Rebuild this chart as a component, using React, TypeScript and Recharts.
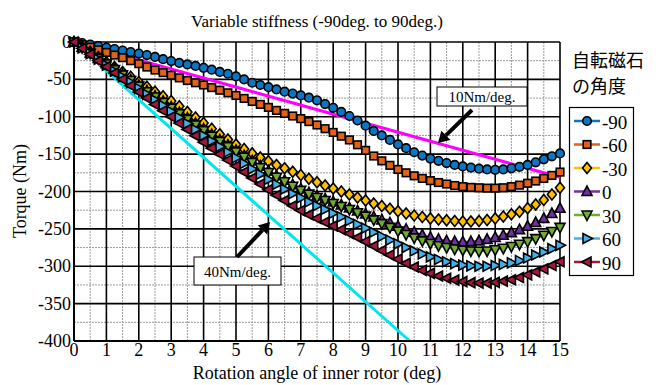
import React from "react";
import { LineChart, Line, XAxis, YAxis, CartesianGrid } from "recharts";

// rotation angle (deg)
const ANGLE = [
  0, 0.25, 0.5, 0.75, 1, 1.25, 1.5, 1.75, 2, 2.25, 2.5, 2.75, 3, 3.25, 3.5, 3.75,
  4, 4.25, 4.5, 4.75, 5, 5.25, 5.5, 5.75, 6, 6.25, 6.5, 6.75, 7, 7.25, 7.5, 7.75,
  8, 8.25, 8.5, 8.75, 9, 9.25, 9.5, 9.75, 10, 10.25, 10.5, 10.75, 11, 11.25, 11.5, 11.75,
  12, 12.25, 12.5, 12.75, 13, 13.25, 13.5, 13.75, 14, 14.25, 14.5, 14.75, 15,
];

// torque (Nm) per magnet angle
const T_M90 = [
  0, -1.5, -3.5, -5.5, -7.5, -9.5, -11.5, -13.5, -15.5, -17.5, -20, -23, -25.5, -28, -30, -32,
  -34.5, -37, -40, -42.5, -46, -50, -54.5, -57.5, -60.5, -63.5, -66.5, -69, -71.5, -74.5, -78, -83,
  -88, -93.5, -99, -105, -112, -119, -125, -131, -137, -142, -147.5, -152, -156, -159, -162, -164.5,
  -166.5, -168, -169.5, -170.5, -171, -170.5, -169, -167, -164.5, -161, -157, -153, -149,
];
const T_M60 = [
  0, -3.5, -7, -10.5, -14, -17.5, -21, -25, -29, -33.5, -37.5, -41, -44.5, -48, -51.5, -54.5,
  -57.5, -61, -64.5, -68, -71.5, -75.5, -79.5, -83.5, -87.5, -91.5, -95.5, -99, -102.5, -106.5, -111, -116,
  -121, -126, -131, -137.5, -145, -152.5, -159, -165, -170.5, -175, -179, -182.5, -185.5, -188, -190, -192,
  -193.5, -194.5, -195, -195.5, -195.5, -195, -193.5, -191.5, -189, -186, -182.5, -178.5, -174,
];
const T_M30 = [
  0, -6.5, -13, -20, -27, -33.5, -40, -46.5, -53.5, -60, -66.5, -72.5, -79, -86, -93.5, -101,
  -108.5, -116, -123.5, -130.5, -137, -143, -149, -154.5, -159.5, -164.5, -169, -173.5, -178, -183, -187.5, -192,
  -196, -200, -204, -208, -212, -216, -219.5, -223, -226.5, -229.5, -232, -234, -236, -237.5, -238.5, -239.5,
  -240, -240, -239.5, -238, -236, -233.5, -230.5, -227, -222.5, -217.5, -211.5, -204, -195,
];
const T_0 = [
  0, -7, -14.5, -22, -29, -36, -43.5, -51, -58, -65.5, -72.5, -79.5, -87, -94.5, -102, -109,
  -116.5, -124, -131, -138, -145, -152, -159, -166, -172.5, -179, -185, -191, -196.5, -201.5, -206, -210,
  -214, -218, -222, -226, -230, -234, -238, -242, -246.5, -250.5, -254.5, -258, -261.5, -264, -266, -267,
  -267.5, -267, -266, -264, -261.5, -258.5, -255, -251, -246.5, -241.5, -236, -229.5, -222.5,
];
const T_P30 = [
  0, -7.5, -15, -22, -29.5, -37, -44, -51.5, -59, -66.5, -73.5, -81, -88.5, -96, -103.5, -111,
  -118.5, -126, -133, -140, -147, -154, -161, -168, -174.5, -181, -187, -193, -198.5, -203.5, -208, -212,
  -216, -220, -224, -228.5, -233, -238, -243, -248, -253, -257.5, -262, -266, -269.5, -272.5, -275, -277,
  -278.5, -279.5, -280, -279.5, -278, -276, -273.5, -270.5, -267, -263, -258.5, -253.5, -248,
];
const T_P60 = [
  0, -8, -15.5, -23, -31, -39, -46.5, -54, -62, -70, -77.5, -85, -93, -101, -109, -117,
  -125, -132.5, -140, -147.5, -155, -162.5, -170, -177, -184, -190.5, -197, -203, -208.5, -214, -219, -224,
  -229, -234, -239, -244, -249, -254.5, -260, -265, -270, -275, -279.5, -283.5, -287.5, -291, -294, -296.5,
  -298.5, -299.5, -300, -300, -299, -297.5, -295.5, -292.5, -289, -285, -281, -276.5, -272,
];
const T_P90 = [
  0, -8.5, -16.5, -25, -33, -41.5, -50, -58.5, -67, -75, -83.5, -92, -100, -108.5, -117, -125.5,
  -134, -142, -150, -158, -166, -174, -182, -190, -197.5, -205, -212, -219, -225.5, -231, -236, -241,
  -246, -251, -256, -261.5, -267, -273, -279, -285, -290.5, -296, -301, -305.5, -309.5, -313, -316, -318.5,
  -320.5, -322, -322.5, -322.5, -321.5, -320, -318, -315, -311.5, -307.5, -303.5, -299, -294,
];

// stiffness reference lines
const REF10_X = [0, 15];
const REF10_Y = [0, -181];
const REF40_X = [0, 10.36];
const REF40_Y = [0, -400];

const X_TICKS = [0, 1, 2, 3, 4, 5, 6, 7, 8, 9, 10, 11, 12, 13, 14, 15];
const Y_TICKS = [0, -50, -100, -150, -200, -250, -300, -350, -400];

const SERIES = [
  { key: "m90", name: "-90", values: T_M90, color: "#0B76C4", shape: "circle" },
  { key: "m60", name: "-60", values: T_M60, color: "#E2621B", shape: "square" },
  { key: "m30", name: "-30", values: T_M30, color: "#FFC000", shape: "diamond" },
  { key: "z0", name: "0", values: T_0, color: "#7030A0", shape: "up" },
  { key: "p30", name: "30", values: T_P30, color: "#72AC2F", shape: "down" },
  { key: "p60", name: "60", values: T_P60, color: "#43B2EA", shape: "right" },
  { key: "p90", name: "90", values: T_P90, color: "#A0193C", shape: "left" },
];

const rows = ANGLE.map((x, i) => {
  const r: Record<string, number> = { x };
  SERIES.forEach((s) => (r[s.key] = s.values[i]));
  return r;
});
const ref10 = REF10_X.map((x, i) => ({ x, ref: REF10_Y[i] }));
const ref40 = REF40_X.map((x, i) => ({ x, ref: REF40_Y[i] }));

const SERIF = "'Liberation Serif', 'Times New Roman', serif";
const CJK = "'Noto Sans CJK JP', sans-serif";
const W = 663;
const H = 385;
const M = { top: 42, right: 103, left: 0, bottom: 0 };

function Marker({ shape, cx, cy, fill }: { shape: string; cx: number; cy: number; fill: string }) {
  const st = { fill, stroke: "#000", strokeWidth: 1.6 };
  if (cx == null || cy == null) return null;
  switch (shape) {
    case "circle":
      return <circle cx={cx} cy={cy} r={4.3} {...st} />;
    case "square":
      return <rect x={cx - 3.8} y={cy - 3.8} width={7.6} height={7.6} {...st} />;
    case "diamond":
      return <polygon points={`${cx},${cy - 5.5} ${cx + 4.5},${cy} ${cx},${cy + 5.5} ${cx - 4.5},${cy}`} {...st} />;
    case "up":
      return <polygon points={`${cx},${cy - 5.5} ${cx + 5},${cy + 4} ${cx - 5},${cy + 4}`} {...st} />;
    case "down":
      return <polygon points={`${cx},${cy + 5.5} ${cx + 5},${cy - 4} ${cx - 5},${cy - 4}`} {...st} />;
    case "right":
      return <polygon points={`${cx + 5.5},${cy} ${cx - 4},${cy - 5} ${cx - 4},${cy + 5}`} {...st} />;
    default:
      return <polygon points={`${cx - 5.5},${cy} ${cx + 4},${cy - 5} ${cx + 4},${cy + 5}`} {...st} />;
  }
}

function Arrow({ x1, y1, x2, y2 }: { x1: number; y1: number; x2: number; y2: number }) {
  const dx = x2 - x1;
  const dy = y2 - y1;
  const len = Math.hypot(dx, dy);
  const ux = dx / len;
  const uy = dy / len;
  const hl = 11;
  const hw = 6.5;
  const bx = x2 - ux * hl;
  const by = y2 - uy * hl;
  return (
    <g>
      <line x1={x1} y1={y1} x2={bx} y2={by} stroke="#000" strokeWidth={4} />
      <polygon points={`${x2},${y2} ${bx - uy * hw},${by + ux * hw} ${bx + uy * hw},${by - ux * hw}`} fill="#000" />
    </g>
  );
}

function XTick({ x, y, payload }: any) {
  return (
    <text x={x} y={y + 9} textAnchor="middle" dominantBaseline="central" style={{ fontFamily: SERIF, fontSize: 18 }} fill="#000">
      {payload.value}
    </text>
  );
}

function YTick({ x, y, payload }: any) {
  return (
    <text x={x} y={y} textAnchor="end" dominantBaseline="central" style={{ fontFamily: SERIF, fontSize: 18 }} fill="#000">
      {payload.value}
    </text>
  );
}

export default function App() {
  const minorX = X_TICKS.slice(0, -1).map((t) => t + 0.5);
  const minorY = Y_TICKS.slice(0, -1).map((t) => t - 25);
  const serifText = { fontFamily: SERIF };
  return (
    <div style={{ position: "absolute", left: 0, top: 0, width: W, height: H, background: "#fff" }}>
      <LineChart width={W} height={H} data={rows} margin={M}>
        <CartesianGrid
          stroke="#9a9a9a"
          strokeDasharray="2 1"
          strokeWidth={1}
          verticalCoordinatesGenerator={({ offset }: any) => minorX.map((v) => offset.left + (v / 15) * offset.width)}
          horizontalCoordinatesGenerator={({ offset }: any) => minorY.map((v) => offset.top + (-v / 400) * offset.height)}
        />
        <CartesianGrid stroke="#000" strokeWidth={1.6} />
        <XAxis
          dataKey="x"
          type="number"
          domain={[0, 15]}
          ticks={X_TICKS}
          interval={0}
          height={44}
          tickSize={0}
          tickMargin={0}
          axisLine={{ stroke: "#000", strokeWidth: 2 }}
          tick={<XTick />}
        />
        <YAxis
          type="number"
          domain={[-400, 0]}
          ticks={Y_TICKS}
          interval={0}
          width={74}
          tickSize={0}
          tickMargin={3}
          axisLine={{ stroke: "#000", strokeWidth: 2 }}
          tick={<YTick />}
        />
        {SERIES.map((s) => (
          <Line
            key={s.key}
            dataKey={s.key}
            name={s.name}
            stroke={s.color}
            strokeWidth={2}
            isAnimationActive={false}
            dot={(p: any) => <Marker key={`${s.key}-${p.index}`} shape={s.shape} cx={p.cx} cy={p.cy} fill={s.color} />}
            activeDot={false}
          />
        ))}
        <Line data={ref10} dataKey="ref" stroke="#FF00FF" strokeWidth={3} dot={false} isAnimationActive={false} />
        <Line data={ref40} dataKey="ref" stroke="#00E5EE" strokeWidth={3} dot={false} isAnimationActive={false} />
      </LineChart>
      <svg width={W} height={H} style={{ position: "absolute", left: 0, top: 0, pointerEvents: "none" }}>
        <text x={317} y={21} textAnchor="middle" dominantBaseline="central" style={{ ...serifText, fontSize: 17 }}>
          Variable stiffness (-90deg. to 90deg.)
        </text>
        <text x={317} y={373} textAnchor="middle" dominantBaseline="central" style={{ ...serifText, fontSize: 18 }}>
          Rotation angle of inner rotor (deg)
        </text>
        <text
          x={20}
          y={191}
          textAnchor="middle"
          dominantBaseline="central"
          style={{ ...serifText, fontSize: 18 }}
          transform="rotate(-90 20 191)"
        >
          Torque (Nm)
        </text>

        <rect x={437} y={87} width={90} height={19} fill="#fff" stroke="#000" strokeWidth={1} />
        <text x={482} y={97} textAnchor="middle" dominantBaseline="central" style={{ ...serifText, fontSize: 15 }}>
          10Nm/deg.
        </text>
        <Arrow x1={472} y1={110} x2={438} y2={143} />

        <rect x={194} y={257} width={87} height={28} fill="#fff" stroke="#000" strokeWidth={1} />
        <text x={237.5} y={272} textAnchor="middle" dominantBaseline="central" style={{ ...serifText, fontSize: 15 }}>
          40Nm/deg.
        </text>
        <Arrow x1={237} y1={257} x2={270} y2={222} />

        <text x={572} y={59} dominantBaseline="central" style={{ fontFamily: CJK, fontSize: 18 }}>
          自転磁石
        </text>
        <text x={572} y={85} dominantBaseline="central" style={{ fontFamily: CJK, fontSize: 18 }}>
          の角度
        </text>
        <rect x={569.5} y={107.5} width={64} height={168} fill="#fff" stroke="#000" strokeWidth={1.2} />
        {SERIES.map((s, i) => {
          const y = 121 + i * 23.5;
          return (
            <g key={s.key}>
              <line x1={574} y1={y} x2={600} y2={y} stroke={s.color} strokeWidth={2.5} />
              <Marker shape={s.shape} cx={587} cy={y} fill={s.color} />
              <text x={602} y={y + 1} dominantBaseline="central" style={{ ...serifText, fontSize: 19 }}>
                {s.name}
              </text>
            </g>
          );
        })}
      </svg>
    </div>
  );
}
